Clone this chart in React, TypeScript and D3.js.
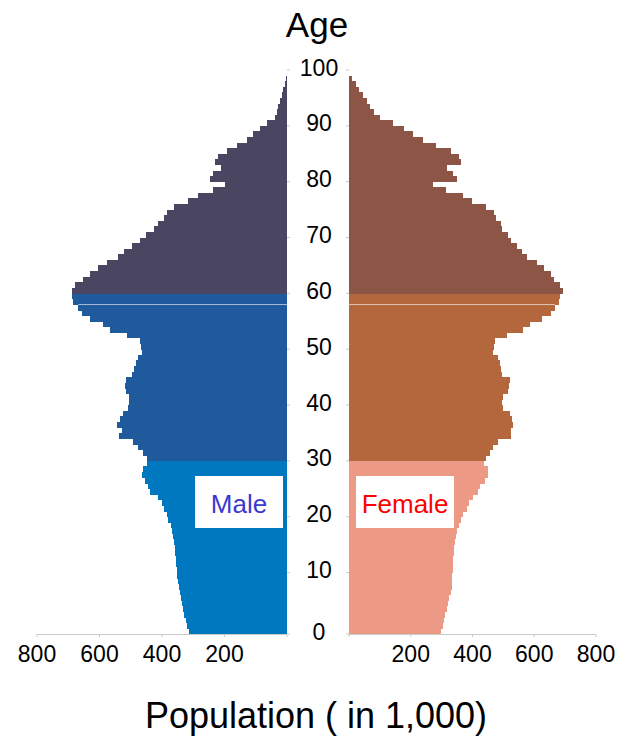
import React from "react";
import * as d3 from "d3";

// Population by single year of age (in 1,000), ages 0..99
const maleValues: number[] = [
  313, 319, 324, 329, 332, 335, 338, 342, 347, 349,
  351, 352, 354, 356, 357, 359, 362, 364, 367, 372,
  380, 385, 393, 401, 414, 438, 444, 454, 465, 462,
  447, 449, 460, 476, 492, 537, 529, 543, 534, 524,
  510, 506, 507, 516, 518, 515, 495, 489, 483, 476,
  463, 467, 470, 511, 566, 590, 630, 657, 668, 684,
  687, 689, 678, 652, 630, 606, 577, 542, 521, 497,
  470, 450, 425, 414, 393, 385, 361, 318, 286, 236,
  198, 246, 236, 211, 232, 222, 193, 159, 127, 108,
  86, 65, 40, 33, 28, 22, 17, 12, 6, 3,
];

const femaleValues: number[] = [
  299, 303, 308, 312, 316, 321, 325, 329, 332, 334,
  335, 336, 337, 338, 339, 341, 343, 347, 351, 356,
  362, 370, 381, 390, 401, 419, 424, 440, 451, 449,
  438, 443, 456, 467, 484, 525, 525, 532, 527, 521,
  500, 497, 500, 514, 518, 521, 497, 492, 489, 482,
  467, 471, 473, 511, 564, 586, 624, 653, 667, 681,
  683, 692, 683, 664, 653, 633, 610, 575, 559, 543,
  525, 516, 497, 491, 476, 470, 444, 399, 368, 314,
  273, 349, 338, 316, 362, 357, 329, 282, 239, 208,
  179, 141, 100, 81, 68, 57, 44, 33, 23, 11,
];

const ages: number[] = d3.range(0, 100);
const ageTicks: number[] = d3.range(0, 101, 10);
const populationTicks: number[] = [200, 400, 600, 800];

// Age groups: 0-30, 31-60, 61+
const maleColors = ["#0078bf", "#1f5a9d", "#4a4560"];
const femaleColors = ["#ec9a86", "#b4673d", "#8c5545"];
const groupOf = (age: number) => (age <= 30 ? 0 : age <= 60 ? 1 : 2);

const W = 641;
const H = 736;
const FONT = "'Liberation Sans', Arial, sans-serif";

export default function App() {
  const y = d3.scaleLinear().domain([-1, 100]).range([634, 70]);
  const xMale = d3.scaleLinear().domain([0, 800]).range([287, 37]);
  const xFemale = d3.scaleLinear().domain([0, 800]).range([349, 596]);
  const axisColor = "#c9c9c9";
  const base = y(-1);
  const tickY = (t: number) => (t === 0 ? base : y(t));

  return (
    <svg
      width={W}
      height={H}
      style={{ position: "absolute", left: 0, top: 0, background: "#fff" }}
      fontFamily={FONT}
    >
      {/* bars */}
      <g shapeRendering="crispEdges">
        {ages.map((a) => (
          <rect
            key={"m" + a}
            x={xMale(maleValues[a])}
            y={y(a)}
            width={xMale(0) - xMale(maleValues[a])}
            height={y(a - 1) - y(a) + 0.4}
            fill={maleColors[groupOf(a)]}
          />
        ))}
        {ages.map((a) => (
          <rect
            key={"f" + a}
            x={xFemale(0)}
            y={y(a)}
            width={xFemale(femaleValues[a]) - xFemale(0)}
            height={y(a - 1) - y(a) + 0.4}
            fill={femaleColors[groupOf(a)]}
          />
        ))}
      </g>

      {/* thin separator inside the 31-60 band */}
      <line
        x1={xMale(maleValues[58])}
        x2={xMale(0)}
        y1={y(58)}
        y2={y(58)}
        stroke="#ffffff"
        strokeOpacity={0.6}
        strokeWidth={1}
      />
      <line
        x1={xFemale(0)}
        x2={xFemale(femaleValues[58])}
        y1={y(58)}
        y2={y(58)}
        stroke="#ffffff"
        strokeOpacity={0.6}
        strokeWidth={1}
      />

      {/* horizontal axes */}
      <g stroke={axisColor} strokeWidth={1}>
        <line x1={xMale(800)} x2={xMale(0)} y1={base + 0.5} y2={base + 0.5} />
        <line x1={xFemale(0)} x2={xFemale(800)} y1={base + 0.5} y2={base + 0.5} />
        {[0, ...populationTicks].map((t) => (
          <line key={"mt" + t} x1={xMale(t)} x2={xMale(t)} y1={base} y2={base + 3} />
        ))}
        {[0, ...populationTicks].map((t) => (
          <line key={"ft" + t} x1={xFemale(t)} x2={xFemale(t)} y1={base} y2={base + 3} />
        ))}
        {/* age ticks on both inner axes */}
        {ageTicks.map((t) => (
          <line key={"am" + t} x1={xMale(0)} x2={xMale(0) + 3} y1={tickY(t)} y2={tickY(t)} />
        ))}
        {ageTicks.map((t) => (
          <line key={"af" + t} x1={xFemale(0) - 3} x2={xFemale(0)} y1={tickY(t)} y2={tickY(t)} />
        ))}
      </g>

      {/* population tick labels */}
      <g fontSize={23} fill="#000" textAnchor="middle">
        {populationTicks.map((t) => (
          <text key={"ml" + t} x={xMale(t)} y={662}>
            {t}
          </text>
        ))}
        {populationTicks.map((t) => (
          <text key={"fl" + t} x={xFemale(t)} y={662}>
            {t}
          </text>
        ))}
      </g>

      {/* age labels in the centre */}
      <g fontSize={23} fill="#000" textAnchor="middle">
        {ageTicks.map((t) => (
          <text key={"al" + t} x={(xMale(0) + xFemale(0)) / 2 + 1} y={tickY(t) + 5.5}>
            {t}
          </text>
        ))}
      </g>

      {/* legend boxes */}
      <rect x={195} y={476} width={88} height={52} fill="#fff" />
      <text x={239} y={513} fontSize={26} fill="#3a3ad0" textAnchor="middle">
        Male
      </text>
      <rect x={356} y={476} width={98} height={52} fill="#fff" />
      <text x={405} y={513} fontSize={26} fill="#ff0000" textAnchor="middle">
        Female
      </text>

      {/* titles */}
      <text x={317} y={37} fontSize={35} fill="#000" textAnchor="middle">
        Age
      </text>
      <text x={316} y={728} fontSize={36} fill="#000" textAnchor="middle">
        Population ( in 1,000)
      </text>
    </svg>
  );
}
